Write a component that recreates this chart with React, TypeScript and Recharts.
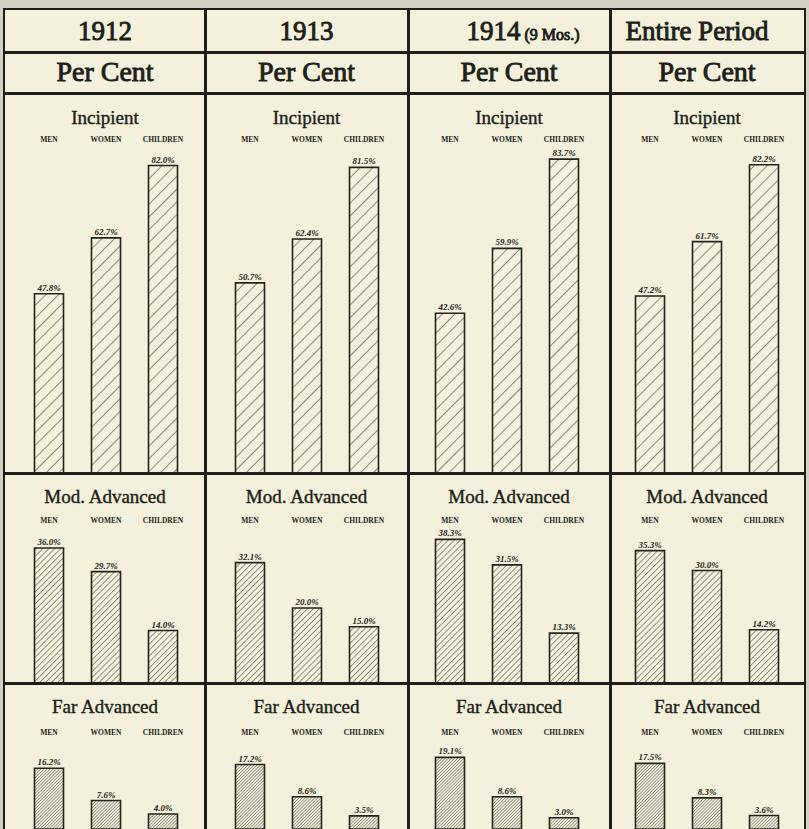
import React from 'react';
import { BarChart, Bar, XAxis, YAxis, LabelList } from 'recharts';

// categories and column headings
const groups = ['MEN', 'WOMEN', 'CHILDREN'];
const periods = ['1912', '1913', '1914', 'Entire Period'];

// Incipient, per cent
const incipient1912 = [47.8, 62.7, 82.0];
const incipient1913 = [50.7, 62.4, 81.5];
const incipient1914 = [42.6, 59.9, 83.7];
const incipientAll = [47.2, 61.7, 82.2];

// Moderately advanced, per cent
const modAdvanced1912 = [36.0, 29.7, 14.0];
const modAdvanced1913 = [32.1, 20.0, 15.0];
const modAdvanced1914 = [38.3, 31.5, 13.3];
const modAdvancedAll = [35.3, 30.0, 14.2];

// Far advanced, per cent
const farAdvanced1912 = [16.2, 7.6, 4.0];
const farAdvanced1913 = [17.2, 8.6, 3.5];
const farAdvanced1914 = [19.1, 8.6, 3.0];
const farAdvancedAll = [17.5, 8.3, 3.6];

const PAPER = '#f3f1dc';
const INK = '#1e1e1a';
const SERIF = '"Liberation Serif", "DejaVu Serif", serif';
const PX_PER_PCT = 3.75;
const AXIS_H = 14;

const colEdges = [5, 205, 408, 610, 804];
const colPad = [
  [15.5, 13.5],
  [16.5, 15.5],
  [13.5, 17.5],
  [11.5, 11.5],
];

const stages = [
  {
    key: 'inc',
    title: 'Incipient',
    series: [incipient1912, incipient1913, incipient1914, incipientAll],
    top: 93,
    baseline: 473,
    plotTop: 150,
    titleY: 118,
    hatch: { size: 9, color: '#33332e', width: 1.1 },
  },
  {
    key: 'mod',
    title: 'Mod. Advanced',
    series: [modAdvanced1912, modAdvanced1913, modAdvanced1914, modAdvancedAll],
    top: 473,
    baseline: 683,
    plotTop: 531,
    titleY: 497,
    hatch: { size: 4.2, color: '#33332e', width: 1 },
  },
  {
    key: 'far',
    title: 'Far Advanced',
    series: [farAdvanced1912, farAdvanced1913, farAdvanced1914, farAdvancedAll],
    top: 683,
    baseline: 829,
    plotTop: 743,
    titleY: 707,
    hatch: { size: 2.2, color: '#5e5d56', width: 1.1 },
  },
];

function Panel({ values, col, stage }: { values: number[]; col: number; stage: any }) {
  const left = colEdges[col];
  const width = colEdges[col + 1] - left;
  const height = stage.baseline - stage.top;
  const data = groups.map((g, i) => ({ group: g, value: values[i] }));
  const max = (stage.baseline - stage.plotTop) / PX_PER_PCT;
  const id = `hatch-${stage.key}-${col}`;
  const h = stage.hatch;

  return (
    <div style={{ position: 'absolute', left, top: stage.top, width, height }}>
      <BarChart
        width={width}
        height={height}
        data={data}
        margin={{ top: stage.plotTop - stage.top - AXIS_H, right: colPad[col][1], bottom: 0, left: colPad[col][0] }}
      >
        <defs>
          <pattern id={id} patternUnits="userSpaceOnUse" width={h.size} height={h.size} patternTransform="rotate(45)">
            <rect width={h.size} height={h.size} fill={PAPER} />
            <line x1={0} y1={0} x2={0} y2={h.size} stroke={h.color} strokeWidth={h.width} />
          </pattern>
        </defs>
        <XAxis
          dataKey="group"
          orientation="top"
          axisLine={false}
          tickLine={false}
          tickSize={0}
          tickMargin={8}
          height={AXIS_H}
          interval={0}
          tick={{ fontSize: 7.5, fontWeight: 700, fill: INK, fontFamily: SERIF }}
        />
        <YAxis hide domain={[0, max]} />
        <Bar dataKey="value" barSize={29} fill={`url(#${id})`} stroke="#24241f" strokeWidth={1.6} isAnimationActive={false}>
          <LabelList
            dataKey="value"
            position="top"
            offset={3}
            formatter={(v: any) => `${Number(v).toFixed(1)}%`}
            fill={INK}
            fontSize={9}
            fontStyle="italic"
            fontWeight={700}
            fontFamily={SERIF}
          />
        </Bar>
      </BarChart>
    </div>
  );
}

function HLine({ y }: { y: number }) {
  return <div style={{ position: 'absolute', left: 5, width: 800, top: y - 1, height: 2.5, background: INK }} />;
}

function VLine({ x }: { x: number }) {
  return <div style={{ position: 'absolute', left: x - 1, width: 2.5, top: 10, height: 830, background: INK }} />;
}

function CenterText({ col, y, children, size, shift = 0, stroke = 0 }: any) {
  const left = colEdges[col];
  const width = colEdges[col + 1] - left;
  return (
    <div
      style={{
        position: 'absolute',
        left: left + shift,
        width,
        top: y - 20,
        height: 40,
        lineHeight: '40px',
        textAlign: 'center',
        fontFamily: SERIF,
        fontSize: size,
        color: INK,
        WebkitTextStroke: stroke ? `${stroke}px ${INK}` : undefined,
        whiteSpace: 'nowrap',
      }}
    >
      {children}
    </div>
  );
}

export default function App() {
  return (
    <div style={{ position: 'absolute', left: 0, top: 0, width: 809, height: 829, overflow: 'hidden', background: '#d2d0c2' }}>
      <div style={{ position: 'absolute', left: 5, top: 10, width: 799, height: 830, background: PAPER }} />

      {stages.map((stage) =>
        stage.series.map((values, col) => <Panel key={`${stage.key}-${col}`} values={values} col={col} stage={stage} />)
      )}

      {periods.map((p, col) => (
        <CenterText
          key={`h-${p}`}
          col={col}
          y={31}
          size={27}
          stroke={0.9}
          shift={col === 2 ? 14 : col === 3 ? -10 : 0}
        >
          {p}
          {col === 2 ? <span style={{ fontSize: 16 }}> (9 Mos.)</span> : null}
        </CenterText>
      ))}
      {periods.map((p, col) => (
        <CenterText key={`pc-${p}`} col={col} y={72} size={28} stroke={0.9}>
          Per Cent
        </CenterText>
      ))}
      {stages.map((stage) =>
        periods.map((p, col) => (
          <CenterText key={`t-${stage.key}-${col}`} col={col} y={stage.titleY} size={19} stroke={0.4}>
            {stage.title}
          </CenterText>
        ))
      )}

      <HLine y={52} />
      <HLine y={93} />
      <HLine y={473} />
      <HLine y={683} />
      <VLine x={205} />
      <VLine x={408} />
      <VLine x={610} />
      <div style={{ position: 'absolute', left: 3, top: 8, width: 799, height: 840, border: `2.5px solid ${INK}` }} />
    </div>
  );
}
